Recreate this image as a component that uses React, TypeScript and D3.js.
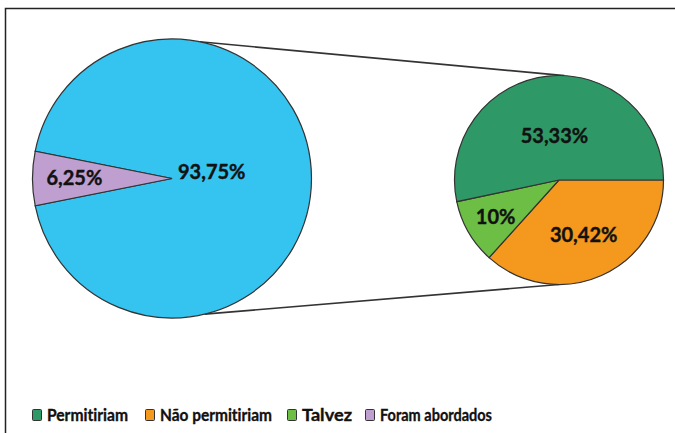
import React from 'react'
import * as d3 from 'd3'

// left pie: the big slice gets exploded into the right pie
const leftNames = ['Outros', 'Foram abordados']
const leftValues = [93.75, 6.25]
const leftLabels = ['93,75%', '6,25%']
const leftColors = ['#35c3f0', '#bf9fcf']

// right pie, drawn clockwise from 3 o'clock
const rightNames = ['Não permitiriam', 'Talvez', 'Permitiriam']
const rightValues = [36.67, 10, 53.33]
const rightLabels = ['30,42%', '10%', '53,33%']
const rightColors = ['#f4981e', '#6cbf44', '#2e9966']

const legendNames = ['Permitiriam', 'Não permitiriam', 'Talvez', 'Foram abordados']
const legendColors = ['#2e9966', '#f4981e', '#6cbf44', '#bf9fcf']

const W = 675
const H = 433

const App = () => {
    const left = { cx: 172, cy: 178.5, r: 139.5 }
    const right = { cx: 559, cy: 180, r: 104.5 }

    const purpleHalf = (leftValues[1] / 100) * Math.PI
    const leftPie = d3.pie<number>().sort(null)
        .startAngle(-Math.PI / 2 + purpleHalf)
        .endAngle(-Math.PI / 2 + purpleHalf + 2 * Math.PI)
    const leftArcs = leftPie(leftValues)

    const rightPie = d3.pie<number>().sort(null)
        .startAngle(Math.PI / 2)
        .endAngle(Math.PI / 2 + 2 * Math.PI)
    const rightArcs = rightPie(rightValues)

    const arcL = d3.arc<d3.PieArcDatum<number>>().innerRadius(0).outerRadius(left.r)
    const arcR = d3.arc<d3.PieArcDatum<number>>().innerRadius(0).outerRadius(right.r)

    // point on a circle, angle clockwise from 12 o'clock in degrees
    const onCircle = (c: { cx: number, cy: number, r: number }, deg: number) => {
        const a = (deg * Math.PI) / 180
        return [c.cx + c.r * Math.sin(a), c.cy - c.r * Math.cos(a)]
    }
    const lt = onCircle(left, 11.5)
    const lb = onCircle(left, 166.5)
    const rt = onCircle(right, 3)
    const rb = onCircle(right, 180)

    const labelFont: React.CSSProperties = {
        fontFamily: 'Lato, "Open Sans", sans-serif',
        fontWeight: 700,
        fontSize: 20,
        fill: '#111',
        stroke: '#111',
        strokeWidth: 0.4,
        fontVariantLigatures: 'none'
    }

    const rightLabelRadius = [0.58, 0.7, 0.42]

    const legendX = [32, 145, 287, 365]
    const legendTextW = [81, 112, 50, 112]
    const legendY = 409

    return (
        <div style={{ position: 'absolute', left: 0, top: 0 }}>
            <svg width={W} height={H} style={{ display: 'block', background: '#fff' }}>
                <rect x={5.5} y={8.5} width={W + 20} height={H + 20} fill="none" stroke="#222" strokeWidth={1.5} />

                <line x1={lt[0]} y1={lt[1]} x2={rt[0]} y2={rt[1]} stroke="#333" strokeWidth={1.6} />
                <line x1={lb[0]} y1={lb[1]} x2={rb[0]} y2={rb[1]} stroke="#333" strokeWidth={1.6} />

                <g transform={`translate(${left.cx},${left.cy})`}>
                    {leftArcs.map((a, i) => (
                        <path key={leftNames[i]} d={arcL(a) || ''} fill={leftColors[i]} stroke="#333" strokeWidth={1.2} />
                    ))}
                    <text x={6} y={0} style={labelFont}>{leftLabels[0]}</text>
                    <text x={-left.r * 0.7} y={6} textAnchor="middle" style={labelFont}>{leftLabels[1]}</text>
                </g>

                <g transform={`translate(${right.cx},${right.cy})`}>
                    {rightArcs.map((a, i) => (
                        <path key={rightNames[i]} d={arcR(a) || ''} fill={rightColors[i]} stroke="#333" strokeWidth={1.2} />
                    ))}
                    {rightArcs.map((a, i) => {
                        const mid = (a.startAngle + a.endAngle) / 2
                        const rr = right.r * rightLabelRadius[i]
                        return (
                            <text key={rightNames[i]} x={rr * Math.sin(mid)} y={-rr * Math.cos(mid) + 7}
                                textAnchor="middle" style={labelFont}>{rightLabels[i]}</text>
                        )
                    })}
                </g>

                {legendNames.map((n, i) => (
                    <g key={n} transform={`translate(${legendX[i]},${legendY})`}>
                        <rect x={0.5} y={0.5} width={9} height={11} fill={legendColors[i]} stroke="#333" strokeWidth={1} rx={1} />
                        <text x={15} y={12} textLength={legendTextW[i]} lengthAdjust="spacingAndGlyphs"
                            style={{ ...labelFont, fontSize: 17, strokeWidth: 0.35 }}>{n}</text>
                    </g>
                ))}
            </svg>
        </div>
    )
}

export default App
